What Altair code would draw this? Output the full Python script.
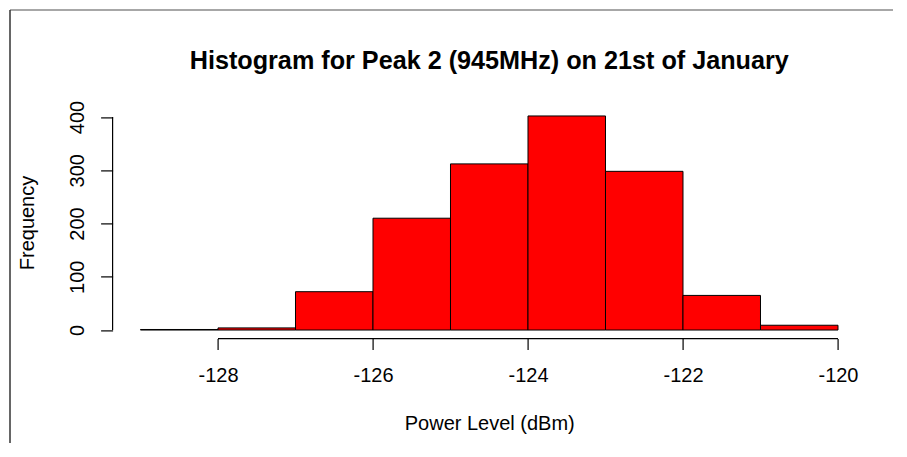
import altair as alt
import pandas as pd

# Histogram data
bin_start = [-129, -128, -127, -126, -125, -124, -123, -122, -121]
bin_end = [-128, -127, -126, -125, -124, -123, -122, -121, -120]
counts = [1, 4, 72, 210, 312, 402, 298, 65, 9]

x_ticks = [-128, -126, -124, -122, -120]
y_ticks = [0, 100, 200, 300, 400]

title_text = "Histogram for Peak 2 (945MHz) on 21st of January"
x_title = "Power Level (dBm)"
y_title = "Frequency"

df = pd.DataFrame({"start": bin_start, "end": bin_end, "count": counts})

W, H = 753.3, 231.2
FONT = "Liberation Sans"
xscale = alt.Scale(domain=[-129.36, -119.64], nice=False, zero=False)
yscale = alt.Scale(domain=[-16.08, 418.08], nice=False, zero=False)

bars = alt.Chart(df).mark_bar(
    color="#ff0000", stroke="black", strokeWidth=1, opacity=1
).encode(
    x=alt.X("start:Q", scale=xscale,
            axis=alt.Axis(values=x_ticks, domain=False, grid=False, tickSize=11,
                          tickColor="black", tickWidth=1.2, labelFontSize=20,
                          labelFont=FONT, labelColor="black",
                          labelExpr="'' + datum.value",
                          labelBaseline="alphabetic", labelPadding=32,
                          labelFlush=False, labelOverlap=False,
                          title=x_title, titleFont=FONT, titleFontSize=20,
                          titleFontWeight="normal", titleColor="black",
                          titleBaseline="alphabetic", titleAlign="center",
                          titleX=W / 2, titleY=91.4)),
    x2="end:Q",
    y=alt.Y("count:Q", scale=yscale,
            axis=alt.Axis(values=y_ticks, domain=False, grid=False, tickSize=12,
                          tickColor="black", tickWidth=1.2, labelFontSize=20,
                          labelFont=FONT, labelColor="black", labelAngle=270,
                          labelExpr="'' + datum.value",
                          labelAlign="center", labelBaseline="alphabetic",
                          labelPadding=17.6, labelFlush=False, labelOverlap=False,
                          title=y_title, titleFont=FONT, titleFontSize=20,
                          titleFontWeight="normal", titleColor="black",
                          titleAngle=270, titleBaseline="alphabetic",
                          titleAlign="center", titleX=-79.6, titleY=115.1)),
    y2=alt.datum(0),
)

axis_df = pd.DataFrame({"x0": [x_ticks[0]], "x1": [x_ticks[-1]],
                        "y0": [y_ticks[0]], "y1": [y_ticks[-1]]})

x_line = alt.Chart(axis_df).mark_rule(color="black", strokeWidth=1.2).encode(
    x=alt.X("x0:Q", scale=xscale), x2="x1:Q", y=alt.value(H)
)
y_line = alt.Chart(axis_df).mark_rule(color="black", strokeWidth=1.2).encode(
    y=alt.Y("y0:Q", scale=yscale), y2="y1:Q", x=alt.value(0)
)

one = pd.DataFrame({"t": [title_text]})
title = alt.Chart(one).mark_text(
    font=FONT, fontSize=25.2, fontWeight="bold", color="black",
    align="center", baseline="alphabetic"
).encode(text="t:N", x=alt.value(W / 2), y=alt.value(-38.1))

border_top = alt.Chart(one).mark_rule(color="#8a8a8a", strokeWidth=1.5).encode(
    x=alt.value(-102.6), x2=alt.value(W + 30), y=alt.value(-97.4)
)
border_left = alt.Chart(one).mark_rule(color="#333333", strokeWidth=1.5).encode(
    x=alt.value(-102.6), y=alt.value(-97.4), y2=alt.value(H + 110)
)

chart = alt.layer(bars, x_line, y_line, title, border_top, border_left).properties(
    width=W, height=H,
    background="white",
    padding={"left": 104.6, "top": 99.4, "right": 27, "bottom": 104},
    autosize=alt.AutoSizeParams(type="none"),
).configure_view(strokeWidth=0, stroke=None)

chart.save("out.html", embed_options={"renderer": "svg", "actions": False})
